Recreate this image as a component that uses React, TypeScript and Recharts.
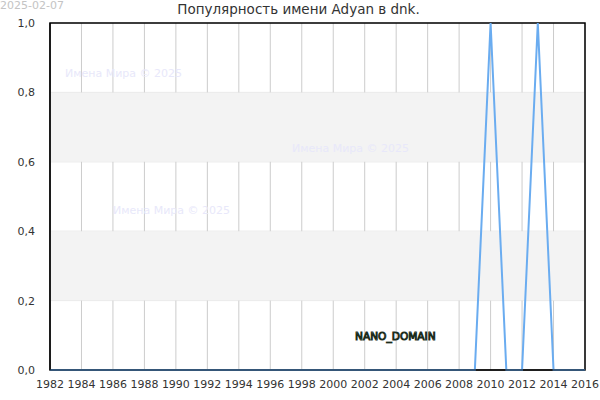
import { LineChart, Line, XAxis, YAxis, CartesianGrid, ReferenceArea } from 'recharts'

const years = [
  1982, 1983, 1984, 1985, 1986, 1987, 1988, 1989, 1990, 1991, 1992, 1993,
  1994, 1995, 1996, 1997, 1998, 1999, 2000, 2001, 2002, 2003, 2004, 2005,
  2006, 2007, 2008, 2009, 2010, 2011, 2012, 2013, 2014, 2015, 2016,
]
const values = [
  0, 0, 0, 0, 0, 0, 0, 0, 0, 0, 0, 0,
  0, 0, 0, 0, 0, 0, 0, 0, 0, 0, 0, 0,
  0, 0, 0, 0, 1, 0, 0, 1, 0, 0, 0,
]
const xTicks = [1982, 1984, 1986, 1988, 1990, 1992, 1994, 1996, 1998, 2000, 2002, 2004, 2006, 2008, 2010, 2012, 2014, 2016]
const yTicks = [0, 0.2, 0.4, 0.6, 0.8, 1]
const bands = [
  [0.2, 0.4],
  [0.6, 0.8],
]
const title = 'Популярность имени Adyan в dnk.'
const watermark = 'Имена Мира © 2025'

const data = years.map((y, i) => ({ year: y, v: values[i] }))

const font = '"DejaVu Sans", sans-serif'

export default function App() {
  return (
    <div style={{ position: 'absolute', left: 0, top: 0, width: 600, height: 400, fontFamily: font }}>
      <LineChart width={600} height={400} data={data} margin={{ top: 23, right: 15, bottom: 0, left: 0 }}>
        {bands.map(([a, b]) => (
          <ReferenceArea key={a} y1={a} y2={b} fill="#f3f3f3" fillOpacity={1} stroke="none" />
        ))}
        <CartesianGrid stroke="#e2e2e2" vertical={false} />
        <CartesianGrid stroke="#cccccc" horizontal={false} />
        <XAxis
          dataKey="year"
          type="number"
          domain={[1982, 2016]}
          ticks={xTicks}
          interval={0}
          height={30}
          tickLine={false}
          axisLine={{ stroke: '#000' }}
          tick={{ fill: '#333', fontSize: 11, fontFamily: font }}
          tickMargin={4}
        />
        <YAxis
          type="number"
          domain={[0, 1]}
          ticks={yTicks}
          width={50}
          tickLine={false}
          axisLine={{ stroke: '#000' }}
          tickFormatter={(n) => Number(n).toFixed(1).replace('.', ',')}
          tick={{ fill: '#333', fontSize: 11, fontFamily: font }}
          tickMargin={9}
        />
        <Line
          type="linear"
          dataKey="v"
          stroke="#6aacf0"
          strokeWidth={2}
          dot={false}
          isAnimationActive={false}
        />
        <ReferenceArea x1={1982} x2={2016} y1={0} y2={1} fill="none" stroke="#000" strokeWidth={1.5} ifOverflow="visible" />
      </LineChart>
      <div style={{ position: 'absolute', left: 0, top: 0, fontSize: 11, lineHeight: '11px', color: '#c4c4c4' }}>2025-02-07</div>
      <div style={{ position: 'absolute', left: 0, width: 597, top: 1, textAlign: 'center', fontSize: 13.5, color: '#333' }}>{title}</div>
      <div style={{ position: 'absolute', left: 65, top: 67, fontSize: 11, color: '#e8e8fa' }}>{watermark}</div>
      <div style={{ position: 'absolute', left: 292, top: 142, fontSize: 11, color: '#e8e8fa' }}>{watermark}</div>
      <div style={{ position: 'absolute', left: 113, top: 204, fontSize: 11, color: '#e8e8fa' }}>{watermark}</div>
      <div
        style={{
          position: 'absolute',
          left: 355,
          top: 330,
          fontSize: 10.6,
          color: '#b6dcb6',
          WebkitTextStroke: '1px #1c2c1c',
        }}
      >
        NANO_DOMAIN
      </div>
    </div>
  )
}
